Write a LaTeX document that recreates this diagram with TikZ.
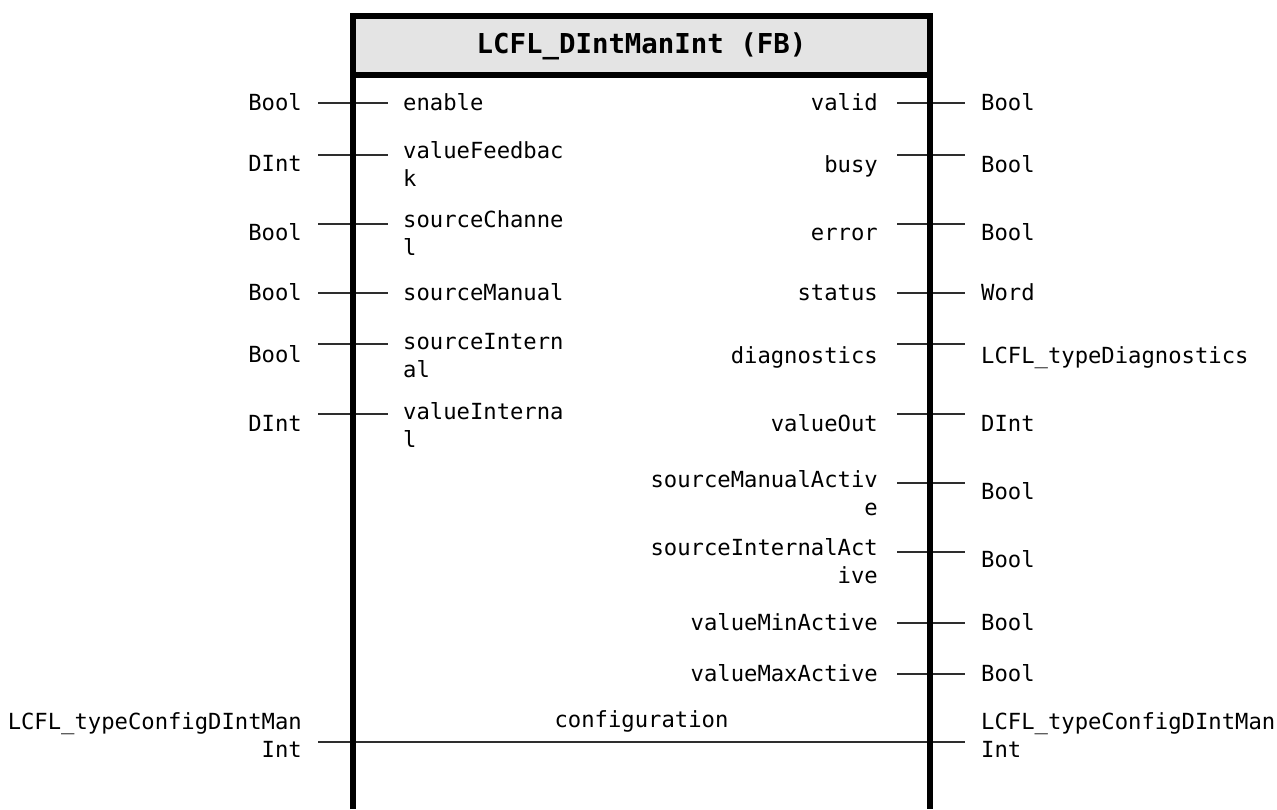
\documentclass[tikz,border=0pt]{standalone}
\usepackage{fontspec}
\newfontfamily\pinfont{DejaVu Sans Mono}
\newcommand{\pinl}[2]{\begin{tabular}[t]{@{}l@{}}#1\\#2\end{tabular}}
\newcommand{\pinr}[2]{\begin{tabular}[t]{@{}r@{}}#1\\#2\end{tabular}}
\definecolor{hdrgrey}{HTML}{E4E4E4}
\definecolor{wiregrey}{HTML}{2E2E2E}
\begin{document}
\begin{tikzpicture}[x=1pt,y=-1pt,
  lbl/.style={font=\pinfont\fontsize{22.2}{28.5}\selectfont, inner sep=0pt, text=black, yshift=-5pt},
  inname/.style={lbl, anchor=mid west},
  outname/.style={lbl, anchor=mid east},
  intype/.style={lbl, anchor=mid east},
  outtype/.style={lbl, anchor=mid west},
  wire/.style={draw=wiregrey, line width=2pt},
  frame/.style={draw=black, line width=6pt, line join=miter}]
\useasboundingbox (0,0) rectangle (1277,809);

% header band and block frame (open at the lower edge)
\fill[hdrgrey] (353,16) rectangle (930,75);
\node[font=\pinfont\bfseries\fontsize{27.4}{32}\selectfont, inner sep=0pt] (title) at (641.5,46) {LCFL\_DIntManInt (FB)};

% input pins
\foreach \n/\y in {1/103, 2/155, 3/224, 4/293, 5/344, 6/414} {
  \coordinate (ia\n) at (318,\y);
  \coordinate (ib\n) at (388,\y);
  \draw[wire] (ia\n) -- (ib\n);
}
\node[inname] (in1) at (403,103) {enable};
\node[inname] (in2) at (403,151) {\pinl{valueFeedbac}{k}};
\node[inname] (in3) at (403,220) {\pinl{sourceChanne}{l}};
\node[inname] (in4) at (403,293) {sourceManual};
\node[inname] (in5) at (403,342) {\pinl{sourceIntern}{al}};
\node[inname] (in6) at (403,412) {\pinl{valueInterna}{l}};

\node[intype] (it1) at (302,103) {Bool};
\node[intype] (it2) at (302,164) {DInt};
\node[intype] (it3) at (302,233) {Bool};
\node[intype] (it4) at (302,293) {Bool};
\node[intype] (it5) at (302,355) {Bool};
\node[intype] (it6) at (302,424) {DInt};

% output pins
\foreach \n/\y in {1/103, 2/155, 3/224, 4/293, 5/344, 6/414, 7/483, 8/552, 9/623, 10/674} {
  \coordinate (oa\n) at (897,\y);
  \coordinate (ob\n) at (965,\y);
  \draw[wire] (oa\n) -- (ob\n);
}
\node[outname] (on1) at (878,103) {valid};
\node[outname] (on2) at (878,165) {busy};
\node[outname] (on3) at (878,233) {error};
\node[outname] (on4) at (878,293) {status};
\node[outname] (on5) at (878,356) {diagnostics};
\node[outname] (on6) at (878,424) {valueOut};
\node[outname] (on7) at (878,480) {\pinr{sourceManualActiv}{e}};
\node[outname] (on8) at (878,548) {\pinr{sourceInternalAct}{ive}};
\node[outname] (on9) at (878,623) {valueMinActive};
\node[outname] (on10) at (878,674) {valueMaxActive};

\node[outtype] (ot1) at (981,103) {Bool};
\node[outtype] (ot2) at (981,165) {Bool};
\node[outtype] (ot3) at (981,233) {Bool};
\node[outtype] (ot4) at (981,293) {Word};
\node[outtype] (ot5) at (981,356) {LCFL\_typeDiagnostics};
\node[outtype] (ot6) at (981,424) {DInt};
\node[outtype] (ot7) at (981,492) {Bool};
\node[outtype] (ot8) at (981,560) {Bool};
\node[outtype] (ot9) at (981,623) {Bool};
\node[outtype] (ot10) at (981,674) {Bool};

% in/out configuration pin running through the block
\coordinate (ca) at (318,742);
\coordinate (cb) at (965,742);
\draw[wire] (ca) -- (cb);
\node[lbl] (cfg) at (641.5,716) {configuration};
\node[intype] (cfgin) at (302,722) {\pinr{LCFL\_typeConfigDIntMan}{Int}};
\node[outtype] (cfgout) at (981,722) {\pinl{LCFL\_typeConfigDIntMan}{Int}};

% frame drawn last so it covers the wire crossings
\draw[frame] (353,809) -- (353,16) -- (930,16) -- (930,809);
\draw[frame] (353,75) -- (930,75);
\end{tikzpicture}
\end{document}
